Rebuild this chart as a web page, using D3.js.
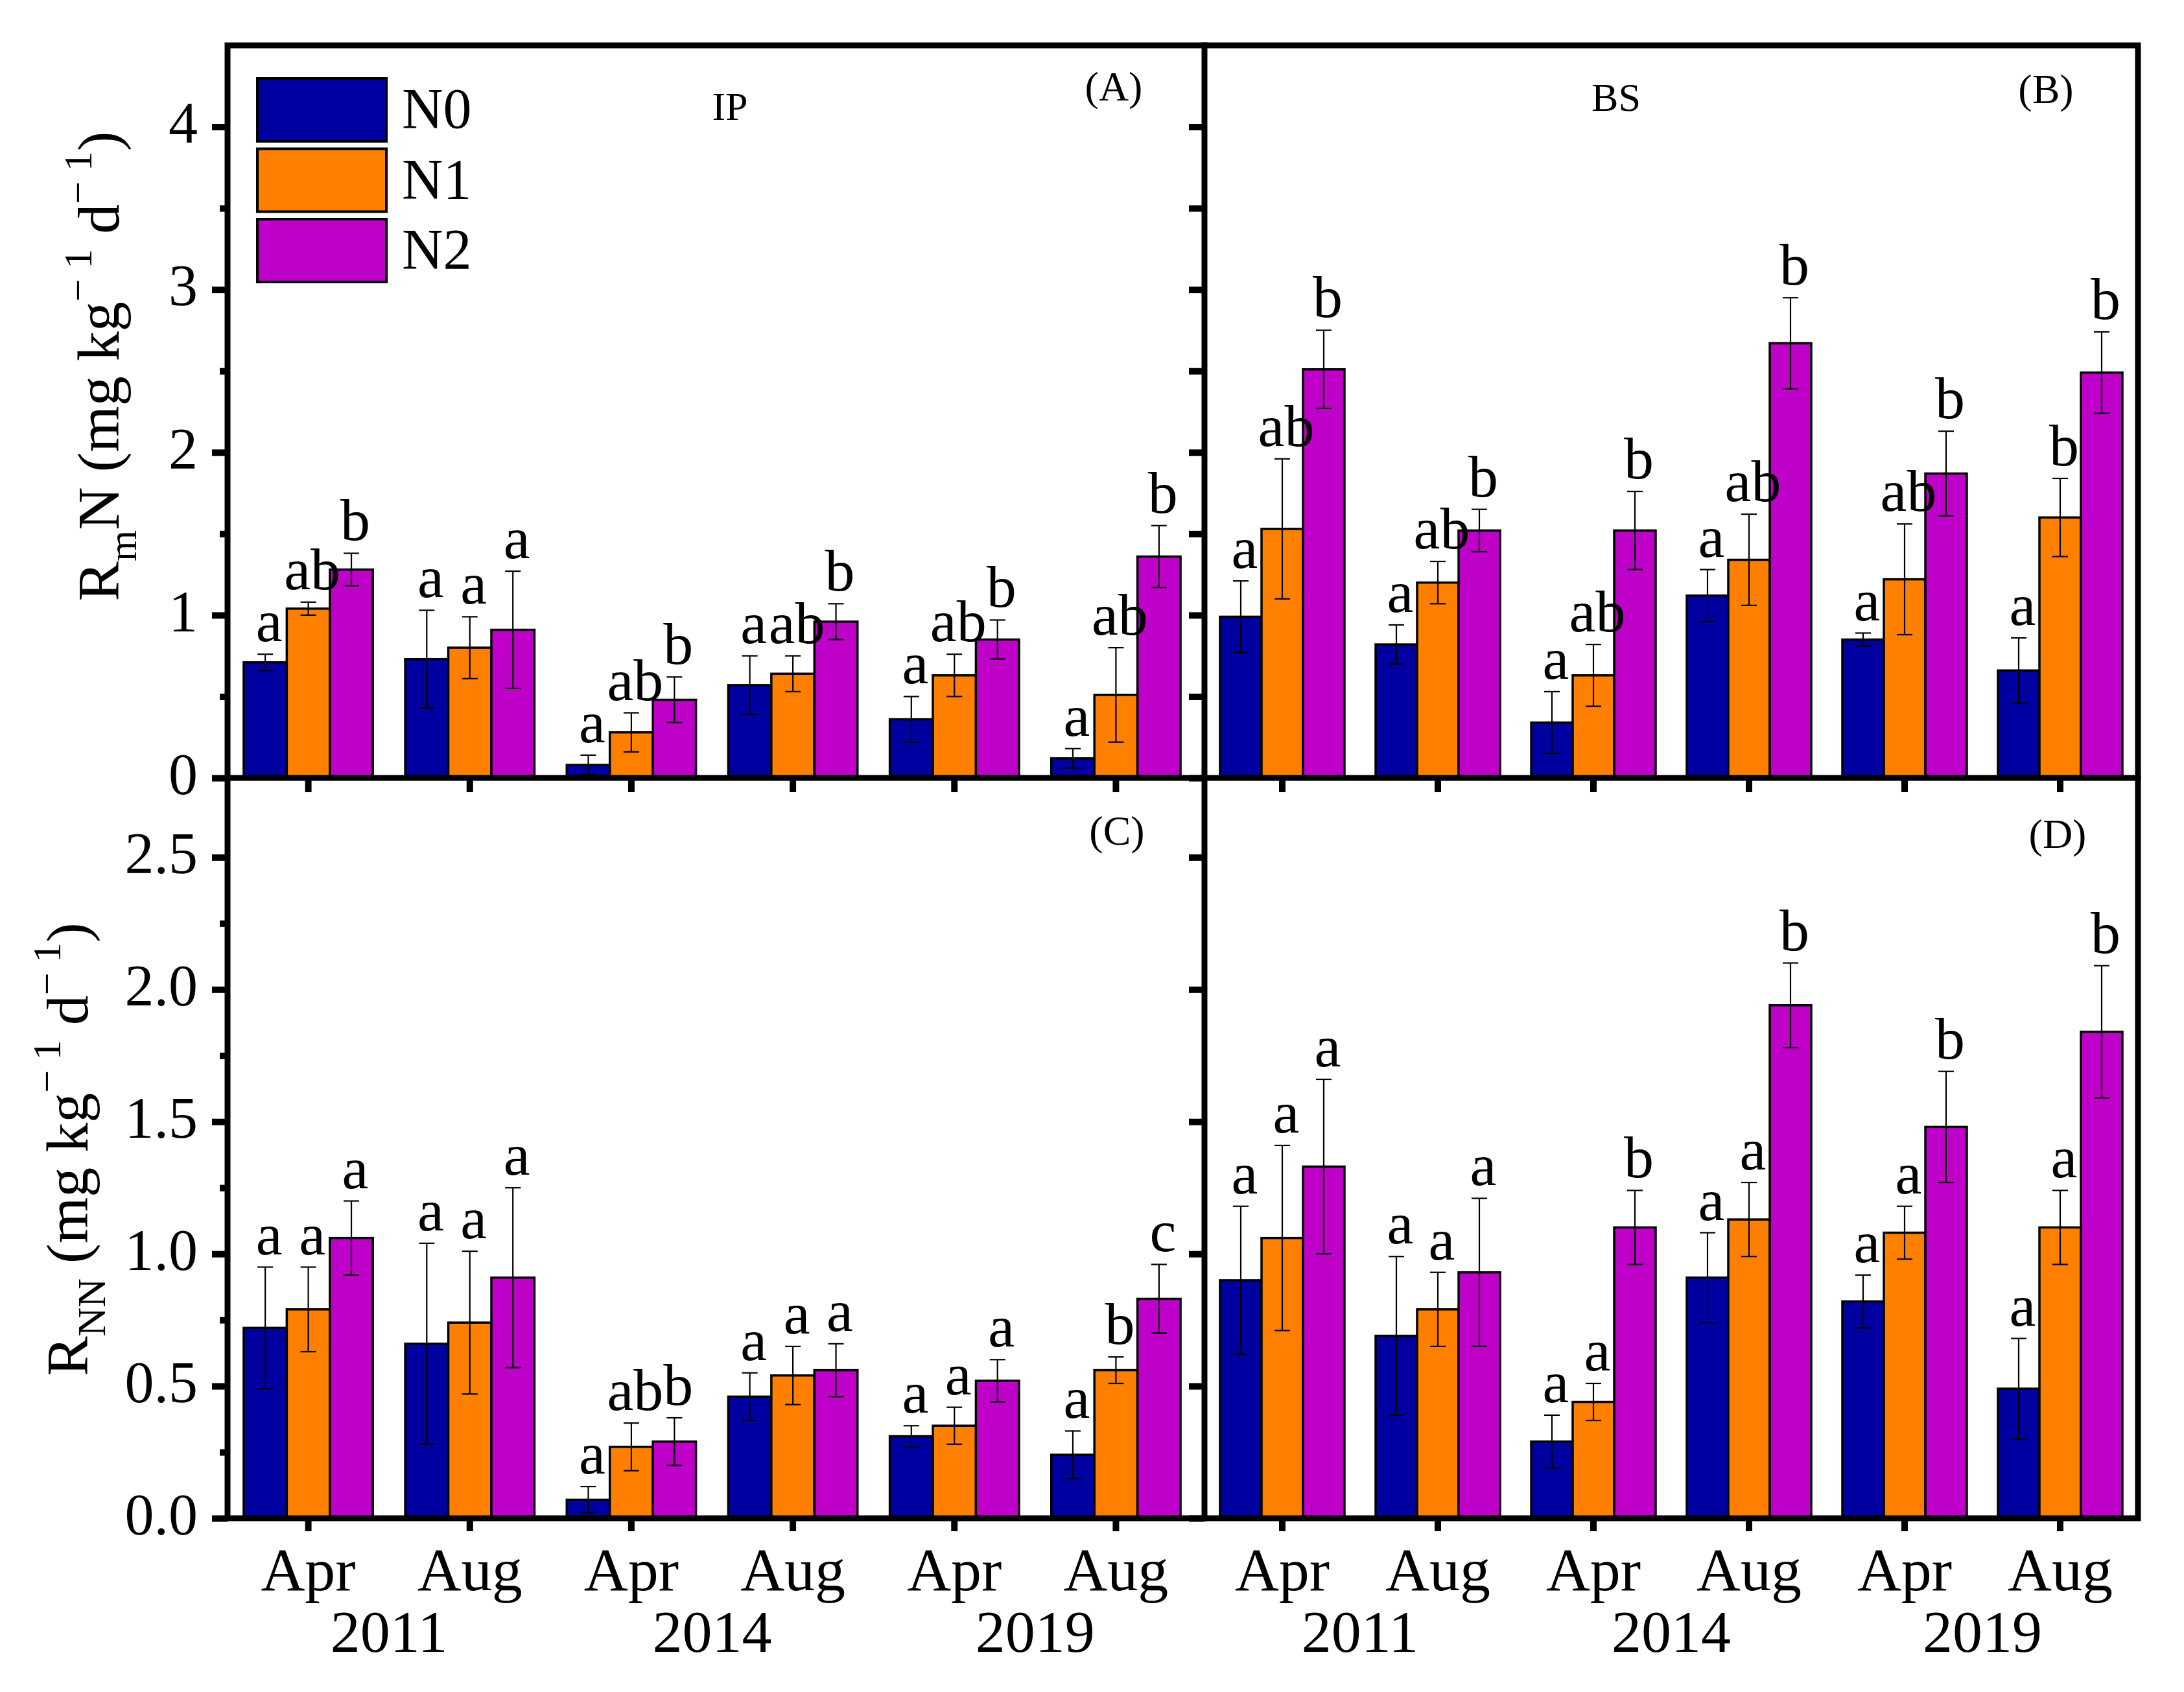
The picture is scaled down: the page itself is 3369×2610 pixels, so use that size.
<!DOCTYPE html>
<html><head><meta charset="utf-8">
<script src="https://cdn.jsdelivr.net/npm/d3@7"></script>
<style>body{margin:0;background:#fff}svg{display:block}</style>
</head><body><svg id="chart" width="3369" height="2610"></svg>
<script>
// ---------- data ----------
const groups = ["2011-Apr","2011-Aug","2014-Apr","2014-Aug","2019-Apr","2019-Aug"];
const months = ["Apr","Aug","Apr","Aug","Apr","Aug"];
const years = ["2011","2014","2019"];
const treatments = ["N0","N1","N2"];
const colors = ["#0000A0","#FF8000","#BE00C8"];

// (A) IP, RmN
const A_N0 = [0.71,0.73,0.08,0.57,0.36,0.12];
const A_N1 = [1.04,0.80,0.28,0.64,0.63,0.51];
const A_N2 = [1.28,0.91,0.48,0.96,0.85,1.36];
const A_N0_err = [0.05,0.30,0.06,0.18,0.14,0.06];
const A_N1_err = [0.04,0.19,0.12,0.11,0.13,0.29];
const A_N2_err = [0.10,0.36,0.14,0.11,0.12,0.19];
const A_N0_sig = ["a","a","a","a","a","a"];
const A_N1_sig = ["ab","a","ab","ab","ab","ab"];
const A_N2_sig = ["b","a","b","b","b","b"];

// (B) BS, RmN
const B_N0 = [0.99,0.82,0.34,1.12,0.85,0.66];
const B_N1 = [1.53,1.20,0.63,1.34,1.22,1.60];
const B_N2 = [2.51,1.52,1.52,2.67,1.87,2.49];
const B_N0_err = [0.22,0.12,0.19,0.16,0.04,0.20];
const B_N1_err = [0.43,0.13,0.19,0.28,0.34,0.24];
const B_N2_err = [0.24,0.13,0.24,0.28,0.26,0.25];
const B_N0_sig = ["a","a","a","a","a","a"];
const B_N1_sig = ["ab","ab","ab","ab","ab","b"];
const B_N2_sig = ["b","b","b","b","b","b"];

// (C) IP, RNN
const C_N0 = [0.72,0.66,0.07,0.46,0.31,0.24];
const C_N1 = [0.79,0.74,0.27,0.54,0.35,0.56];
const C_N2 = [1.06,0.91,0.29,0.56,0.52,0.83];
const C_N0_err = [0.23,0.38,0.05,0.09,0.04,0.09];
const C_N1_err = [0.16,0.27,0.09,0.11,0.07,0.05];
const C_N2_err = [0.14,0.34,0.09,0.10,0.08,0.13];
const C_N0_sig = ["a","a","a","a","a","a"];
const C_N1_sig = ["a","a","ab","a","a","b"];
const C_N2_sig = ["a","a","b","a","a","c"];

// (D) BS, RNN
const D_N0 = [0.90,0.69,0.29,0.91,0.82,0.49];
const D_N1 = [1.06,0.79,0.44,1.13,1.08,1.10];
const D_N2 = [1.33,0.93,1.10,1.94,1.48,1.84];
const D_N0_err = [0.28,0.30,0.10,0.17,0.10,0.19];
const D_N1_err = [0.35,0.14,0.07,0.14,0.10,0.14];
const D_N2_err = [0.33,0.28,0.14,0.16,0.21,0.25];
const D_N0_sig = ["a","a","a","a","a","a"];
const D_N1_sig = ["a","a","a","a","a","a"];
const D_N2_sig = ["a","a","b","b","b","b"];

const yTicksTop = [0,1,2,3,4];
const yMinorTop = [0.5,1.5,2.5,3.5];
const yTicksBottom = [0,0.5,1.0,1.5,2.0,2.5];
const yMinorBottom = [0.25,0.75,1.25,1.75,2.25];

// ---------- layout ----------
const FONT = "'Liberation Serif','Times New Roman',serif";
const L = 351, MID_X = 1858, R = 3298;
const TOP = 70, MID_Y = 1200, BOT = 2342;
const AXW = 9;

const svg = d3.select("#chart").style("font-family", FONT);
svg.append("rect").attr("width",3369).attr("height",2610).attr("fill","#fff");

const yTop = d3.scaleLinear().domain([0,4.5]).range([MID_Y, TOP]);
const yBot = d3.scaleLinear().domain([0,2.8]).range([BOT, MID_Y]);
const xLeft = d3.scaleBand().domain(groups).range([L, 1846]).paddingInner(0.2).paddingOuter(0.1);
const xRight = d3.scaleBand().domain(groups).range([MID_X, R]).paddingInner(0.2).paddingOuter(0.1);

function series(vals, errs, sigs) {
  return treatments.map((t,i)=>({t, vals: vals[i], errs: errs[i], sigs: sigs[i], color: colors[i]}));
}
const panels = [
  {x: xLeft, y: yTop, s: series([A_N0,A_N1,A_N2],[A_N0_err,A_N1_err,A_N2_err],[A_N0_sig,A_N1_sig,A_N2_sig])},
  {x: xRight, y: yTop, s: series([B_N0,B_N1,B_N2],[B_N0_err,B_N1_err,B_N2_err],[B_N0_sig,B_N1_sig,B_N2_sig])},
  {x: xLeft, y: yBot, s: series([C_N0,C_N1,C_N2],[C_N0_err,C_N1_err,C_N2_err],[C_N0_sig,C_N1_sig,C_N2_sig])},
  {x: xRight, y: yBot, s: series([D_N0,D_N1,D_N2],[D_N0_err,D_N1_err,D_N2_err],[D_N0_sig,D_N1_sig,D_N2_sig])}
];

panels.forEach(p => {
  const xs = d3.scaleBand().domain(treatments).range([0, p.x.bandwidth()]);
  const g = svg.append("g");
  p.s.forEach(ser => {
    groups.forEach((grp, gi) => {
      const v = ser.vals[gi], e = ser.errs[gi];
      const bx = p.x(grp) + xs(ser.t);
      const cx = bx + xs.bandwidth()/2;
      g.append("rect").attr("x", bx).attr("y", p.y(v))
        .attr("width", xs.bandwidth()).attr("height", p.y(0) - p.y(v))
        .attr("fill", ser.color).attr("stroke", "#000").attr("stroke-width", 3.5);
      const eg = g.append("g").attr("stroke","#000").attr("stroke-width",2.2);
      eg.append("line").attr("x1",cx).attr("x2",cx).attr("y1",p.y(v+e)).attr("y2",p.y(Math.max(0,v-e)));
      eg.append("line").attr("x1",cx-12).attr("x2",cx+12).attr("y1",p.y(v+e)).attr("y2",p.y(v+e));
      eg.append("line").attr("x1",cx-12).attr("x2",cx+12).attr("y1",p.y(Math.max(0,v-e))).attr("y2",p.y(Math.max(0,v-e)));
    });
  });
  // letters on top
  p.s.forEach(ser => {
    groups.forEach((grp, gi) => {
      const v = ser.vals[gi], e = ser.errs[gi];
      const cx = p.x(grp) + xs(ser.t) + xs.bandwidth()/2;
      g.append("text").attr("x", cx + 6).attr("y", p.y(v+e) - 20)
        .attr("text-anchor","middle").attr("font-size",92).attr("fill","#000")
        .text(ser.sigs[gi]);
    });
  });
});

// ---------- axes ----------
function styleAxis(sel, fs) {
  sel.select(".domain").remove();
  sel.selectAll(".tick line").attr("stroke","#000").attr("stroke-width",10);
  sel.selectAll(".tick text").attr("font-family",FONT).attr("font-size",fs).attr("fill","#000");
}
// left y axes
[[yTop, yTicksTop, yMinorTop, d3.format("d")],[yBot, yTicksBottom, yMinorBottom, d3.format(".1f")]].forEach(([ys, maj, mnr, fmt]) => {
  const a = svg.append("g").attr("transform",`translate(${L},0)`)
    .call(d3.axisLeft(ys).tickValues(maj).tickSize(24).tickPadding(22).tickFormat(fmt));
  styleAxis(a, 90);
  a.selectAll(".tick text").attr("dy","0.27em");
  const m = svg.append("g").attr("transform",`translate(${L},0)`)
    .call(d3.axisLeft(ys).tickValues(mnr).tickSize(12).tickFormat(""));
  styleAxis(m, 90);
  // inner ticks on the divider (right side of left panels)
  const r = svg.append("g").attr("transform",`translate(${MID_X},0)`)
    .call(d3.axisRight(ys).tickValues(ys === yTop ? maj.concat(mnr) : maj).tickSize(-24).tickFormat(""));
  styleAxis(r, 90);
});
// x axes between panels (ticks pointing down)
[xLeft, xRight].forEach(xs => {
  const a = svg.append("g").attr("transform",`translate(0,${MID_Y})`)
    .call(d3.axisBottom(xs).tickSize(22).tickFormat(""));
  styleAxis(a, 92);
  const b = svg.append("g").attr("transform",`translate(0,${BOT})`)
    .call(d3.axisBottom(xs).tickSize(20).tickFormat((d,i)=>months[i]));
  styleAxis(b, 94);
  b.selectAll(".tick text").attr("y",111).attr("dy",0);
  years.forEach((yr, i) => {
    const c1 = xs(groups[2*i]) + xs.bandwidth()/2, c2 = xs(groups[2*i+1]) + xs.bandwidth()/2;
    svg.append("text").attr("x",(c1+c2)/2).attr("y",2548).attr("text-anchor","middle")
      .attr("font-size",92).attr("fill","#000").text(yr);
  });
});

// frame
const fr = svg.append("g").attr("stroke","#000").attr("stroke-width",AXW).attr("stroke-linecap","square").attr("fill","none");
fr.append("rect").attr("x",L).attr("y",TOP).attr("width",R-L).attr("height",BOT-TOP);
fr.append("line").attr("x1",MID_X).attr("x2",MID_X).attr("y1",TOP).attr("y2",BOT);
fr.append("line").attr("x1",L).attr("x2",R).attr("y1",MID_Y).attr("y2",MID_Y);

// ---------- y axis titles ----------
function yTitle(x, y, sub) {
  const t = svg.append("text").attr("transform",`translate(${x},${y}) rotate(-90)`)
    .attr("text-anchor","middle").attr("font-size",92).attr("fill","#000");
  t.append("tspan").text("R");
  t.append("tspan").attr("font-size",62).attr("dy",27).text(sub);
  t.append("tspan").attr("dy",-27).text(sub === "m" ? "N (mg kg" : " (mg kg");
  t.append("tspan").attr("font-size",62).attr("dy",-42).text("\u2212 1");
  t.append("tspan").attr("dy",42).text(" d");
  t.append("tspan").attr("font-size",62).attr("dy",-42).text("\u2212 1");
  t.append("tspan").attr("dy",42).text(")");
}
yTitle(183, 565, "m");
yTitle(135, 1773, "NN");

// ---------- panel labels ----------
const labels = [["IP",1126,185,62],["BS",2493,171,62],["(A)",1718,155,64],["(B)",3156,159,64],["(C)",1723,1303,64],["(D)",3174,1308,64]];
labels.forEach(([t,x,y,fs]) => svg.append("text").attr("x",x).attr("y",y).attr("text-anchor","middle")
  .attr("font-size",fs).attr("fill","#000").text(t));

// ---------- legend ----------
const lg = svg.append("g");
treatments.forEach((t,i) => {
  const yy = 121 + i*108.5;
  lg.append("rect").attr("x",397).attr("y",yy).attr("width",199).attr("height",97)
    .attr("fill",colors[i]).attr("stroke","#000").attr("stroke-width",4);
  lg.append("text").attr("x",620).attr("y",yy+76).attr("font-size",88).attr("fill","#000").text(t);
});
</script></body></html>
